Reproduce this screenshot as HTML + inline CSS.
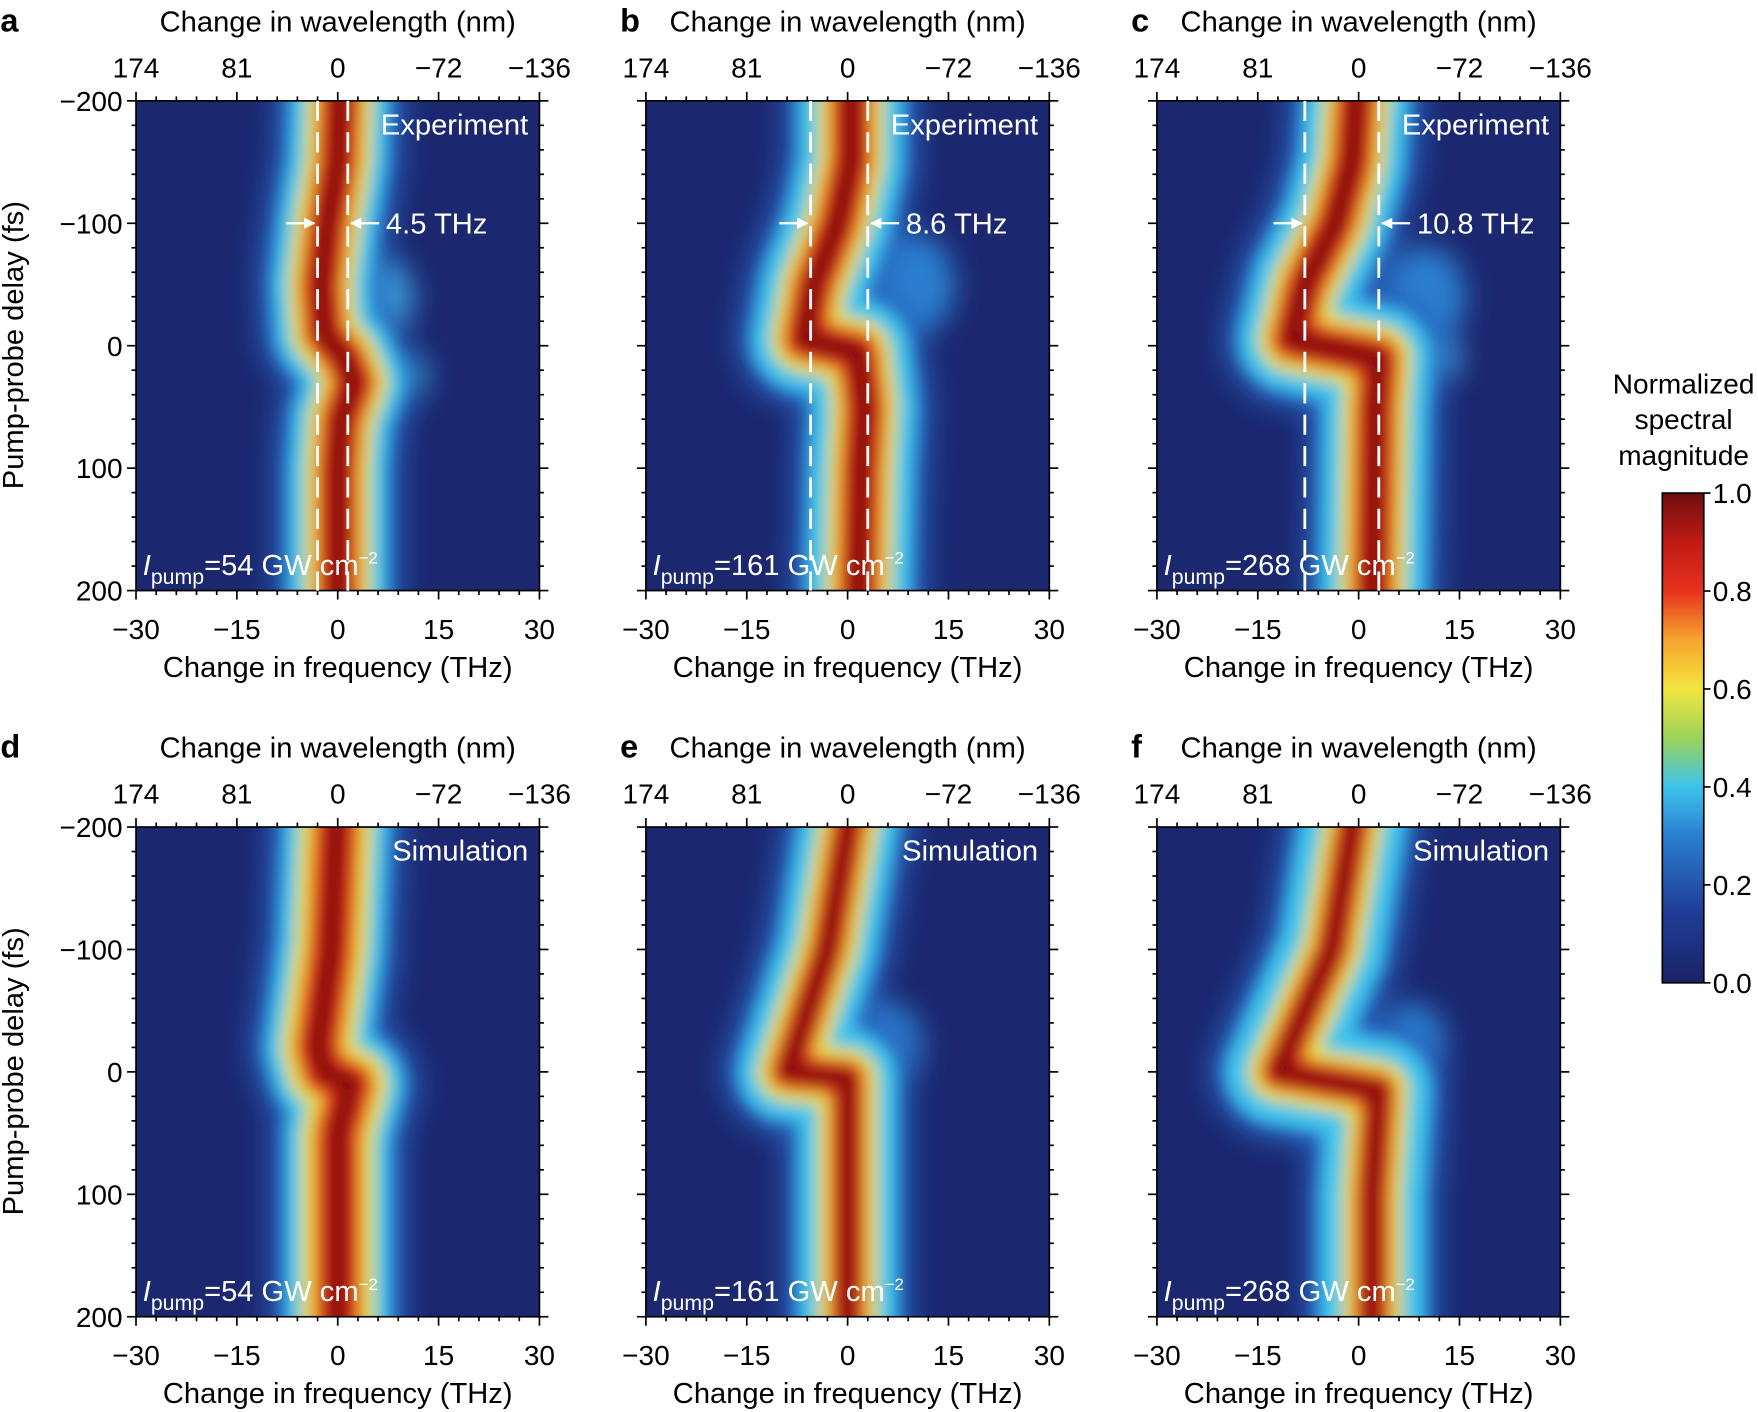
<!DOCTYPE html>
<html><head><meta charset="utf-8">
<style>html,body{margin:0;padding:0;background:#fff}svg{display:block}</style>
</head><body>
<svg id="s" xmlns="http://www.w3.org/2000/svg" width="1758" height="1412" viewBox="0 0 1568 1260" font-family="Liberation Sans, sans-serif">
<defs>
<filter id="bl" filterUnits="userSpaceOnUse" x="0" y="0" width="1568" height="1260"><feGaussianBlur stdDeviation="7"/></filter>
<filter id="bl2" filterUnits="userSpaceOnUse" x="0" y="0" width="1568" height="1260"><feGaussianBlur stdDeviation="12"/></filter>
<linearGradient id="cb" x1="0" y1="1" x2="0" y2="0">
<stop offset="0" stop-color="#1a2266"/><stop offset="0.15" stop-color="#1f3f9a"/>
<stop offset="0.3" stop-color="#2a7fd0"/><stop offset="0.4" stop-color="#3cc4ec"/>
<stop offset="0.5" stop-color="#9cd35a"/><stop offset="0.6" stop-color="#f2e63e"/>
<stop offset="0.7" stop-color="#f7a52e"/><stop offset="0.8" stop-color="#e8321c"/>
<stop offset="0.9" stop-color="#c01a14"/><stop offset="1" stop-color="#6e0e0e"/>
</linearGradient>
</defs>
</svg>
<script>
const S=document.getElementById('s');
let H='';
const px=[0,455,911], py=[90,738];
const data=[
 {p:[[-230,0.5],[-150,0],[-100,-1.5],[-50,-2.5],[-10,-2],[10,1],[30,2.5],[60,0.5],[100,0],[230,0]],w:[15,10,6.5,3.5],lab:'Experiment',I:'54',d:[-3,1.5],txt:'4.5 THz',extra:[[-40,7,'#3aa0dc',25,35],[25,9,'#3cc4ec',25,25]]},
 {p:[[-230,0.5],[-150,0.5],[-100,-1.5],[-50,-5],[-5,-6.5],[5,1.5],[50,2.5],[100,2],[230,1.5]],w:[16,10,6.5,3.5],lab:'Experiment',I:'161',d:[-5.5,3],txt:'8.6 THz',extra:[[-50,10,'#2a7fd0',35,45]]},
 {p:[[-230,0],[-150,-1],[-100,-3.5],[-50,-8],[-5,-10],[10,3],[50,2.5],[230,2]],w:[16,10,6.5,3.5],lab:'Experiment',I:'268',d:[-8,3],txt:'10.8 THz',extra:[[-40,10,'#2a7fd0',35,45],[10,12,'#3aa0dc',20,20]]},
 {p:[[-230,0],[-100,-1],[-20,-3],[0,-2],[10,2],[50,0],[230,0]],w:[16,11,7,3.5],lab:'Simulation',I:'54',extra:[]},
 {p:[[-230,1],[-100,-3],[0,-9],[5,0],[100,0],[230,0]],w:[15,9,5.5,3],lab:'Simulation',I:'161',extra:[[-20,6,'#2a7fd0',30,40]]},
 {p:[[-230,0],[-100,-4],[0,-12],[15,3],[100,2],[230,2]],w:[16,9,5.5,3],lab:'Simulation',I:'268',extra:[[-20,8,'#2a7fd0',30,40]]}
];
const letters='abcdef';
data.forEach((D,i)=>{
 const ox=px[i%3], oy=py[Math.floor(i/3)];
 const X=f=>ox+301+6*f, Y=t=>oy+218.5+1.0925*t;
 H+=`<clipPath id="c${i}"><rect x="${ox+121}" y="${oy}" width="360" height="437"/></clipPath>`;
 H+=`<g clip-path="url(#c${i})"><rect x="${ox+121}" y="${oy}" width="360" height="437" fill="#1b2870"/>`;
 const pts=D.p.map(q=>X(q[1]).toFixed(1)+','+Y(q[0]).toFixed(1)).join(' ');
 H+=`<g filter="url(#bl2)">`;
 D.extra.forEach(e=>{H+=`<ellipse cx="${X(e[1])}" cy="${Y(e[0])}" rx="${e[3]}" ry="${e[4]}" fill="${e[2]}"/>`});
 H+=`<polyline points="${pts}" fill="none" stroke="#2760bb" stroke-width="${D.w[0]*6+24}" stroke-linejoin="round"/>`;
 H+=`</g><g filter="url(#bl)">`;
 const cols=['#3cc4ec','#e8e040','#e8321c','#8a1010'];
 D.w.forEach((w,k)=>{H+=`<polyline points="${pts}" fill="none" stroke="${cols[k]}" stroke-width="${w*6}" stroke-linejoin="round"/>`});
 H+=`</g></g>`;
 const x0=ox+121,x1=ox+481,y0=oy,y1=oy+437;
 for(let f=-30;f<=30;f+=3){const x=X(f),maj=f%15==0;const L=maj?8:4;
  H+=`<line x1="${x}" y1="${y1}" x2="${x}" y2="${y1+L}" stroke="#000" stroke-width="1.5"/><line x1="${x}" y1="${y0}" x2="${x}" y2="${y0-L}" stroke="#000" stroke-width="1.5"/>`;}
 for(let t=-200;t<=200;t+=20){const y=Y(t),maj=t%100==0;const L=maj?8:4;
  H+=`<line x1="${x0}" y1="${y}" x2="${x0-L}" y2="${y}" stroke="#000" stroke-width="1.5"/><line x1="${x1}" y1="${y}" x2="${x1+L}" y2="${y}" stroke="#000" stroke-width="1.5"/>`;}
 H+=`<rect x="${x0}" y="${y0}" width="360" height="437" fill="none" stroke="#000" stroke-width="1.5"/>`;
 [-30,-15,0,15,30].forEach(f=>{H+=`<text x="${X(f)}" y="${y1+43}" font-size="25" text-anchor="middle">${f<0?'\u2212'+(-f):f}</text>`});
 ['174','81','0','\u221272','\u2212136'].forEach((s,k)=>{H+=`<text x="${X(-30+15*k)}" y="${y0-21}" font-size="25" text-anchor="middle">${s}</text>`});
 if(i%3==0){[-200,-100,0,100,200].forEach(t=>{H+=`<text x="${x0-12}" y="${Y(t)+9}" font-size="25" text-anchor="end">${t<0?'\u2212'+(-t):t}</text>`});
  H+=`<text transform="translate(20,${oy+218}) rotate(-90)" font-size="26" text-anchor="middle">Pump-probe delay (fs)</text>`;}
 H+=`<text x="${ox+301}" y="${y1+77}" font-size="26" text-anchor="middle">Change in frequency (THz)</text>`;
 H+=`<text x="${ox+301}" y="${y0-62}" font-size="26" text-anchor="middle">Change in wavelength (nm)</text>`;
 H+=`<text x="${ox+(i%3?98:0)}" y="${y0-62}" font-size="29" font-weight="bold">${letters[i]}</text>`;
 H+=`<text x="${x1-10}" y="${y0+30}" font-size="26" fill="#fff" text-anchor="end">${D.lab}</text>`;
 H+=`<text x="${x0+6}" y="${y1-14}" font-size="26" fill="#fff"><tspan font-style="italic">I</tspan><tspan font-size="19" dy="8">pump</tspan><tspan dy="-8">=${D.I} GW cm</tspan><tspan font-size="15" dy="-10">\u22122</tspan></text>`;
 if(D.d){
  D.d.forEach(f=>{H+=`<line x1="${X(f)}" y1="${y0}" x2="${X(f)}" y2="${y1}" stroke="#fff" stroke-width="2.5" stroke-dasharray="18,10"/>`});
  const ya=Y(-100),xa=X(D.d[0]),xb=X(D.d[1]);
  H+=`<line x1="${xa-28}" y1="${ya}" x2="${xa-3}" y2="${ya}" stroke="#fff" stroke-width="2"/><polygon points="${xa-2},${ya} ${xa-12},${ya-5} ${xa-12},${ya+5}" fill="#fff"/>`;
  H+=`<line x1="${xb+3}" y1="${ya}" x2="${xb+28}" y2="${ya}" stroke="#fff" stroke-width="2"/><polygon points="${xb+2},${ya} ${xb+12},${ya-5} ${xb+12},${ya+5}" fill="#fff"/>`;
  H+=`<text x="${xb+34}" y="${ya+9}" font-size="26" fill="#fff">${D.txt}</text>`;
 }
});
H+=`<rect x="1483" y="440" width="37" height="437" fill="url(#cb)" stroke="#000" stroke-width="1.5"/>`;
[0,0.2,0.4,0.6,0.8,1.0].forEach(v=>{const y=877-437*v;H+=`<line x1="1520" y1="${y}" x2="1526" y2="${y}" stroke="#000" stroke-width="1.5"/><text x="1528" y="${y+9}" font-size="25">${v.toFixed(1)}</text>`});
H+=`<text x="1502" y="351" font-size="25" text-anchor="middle">Normalized</text><text x="1502" y="383" font-size="25" text-anchor="middle">spectral</text><text x="1502" y="415" font-size="25" text-anchor="middle">magnitude</text>`;
S.insertAdjacentHTML('beforeend',H);
</script>
</body></html>
